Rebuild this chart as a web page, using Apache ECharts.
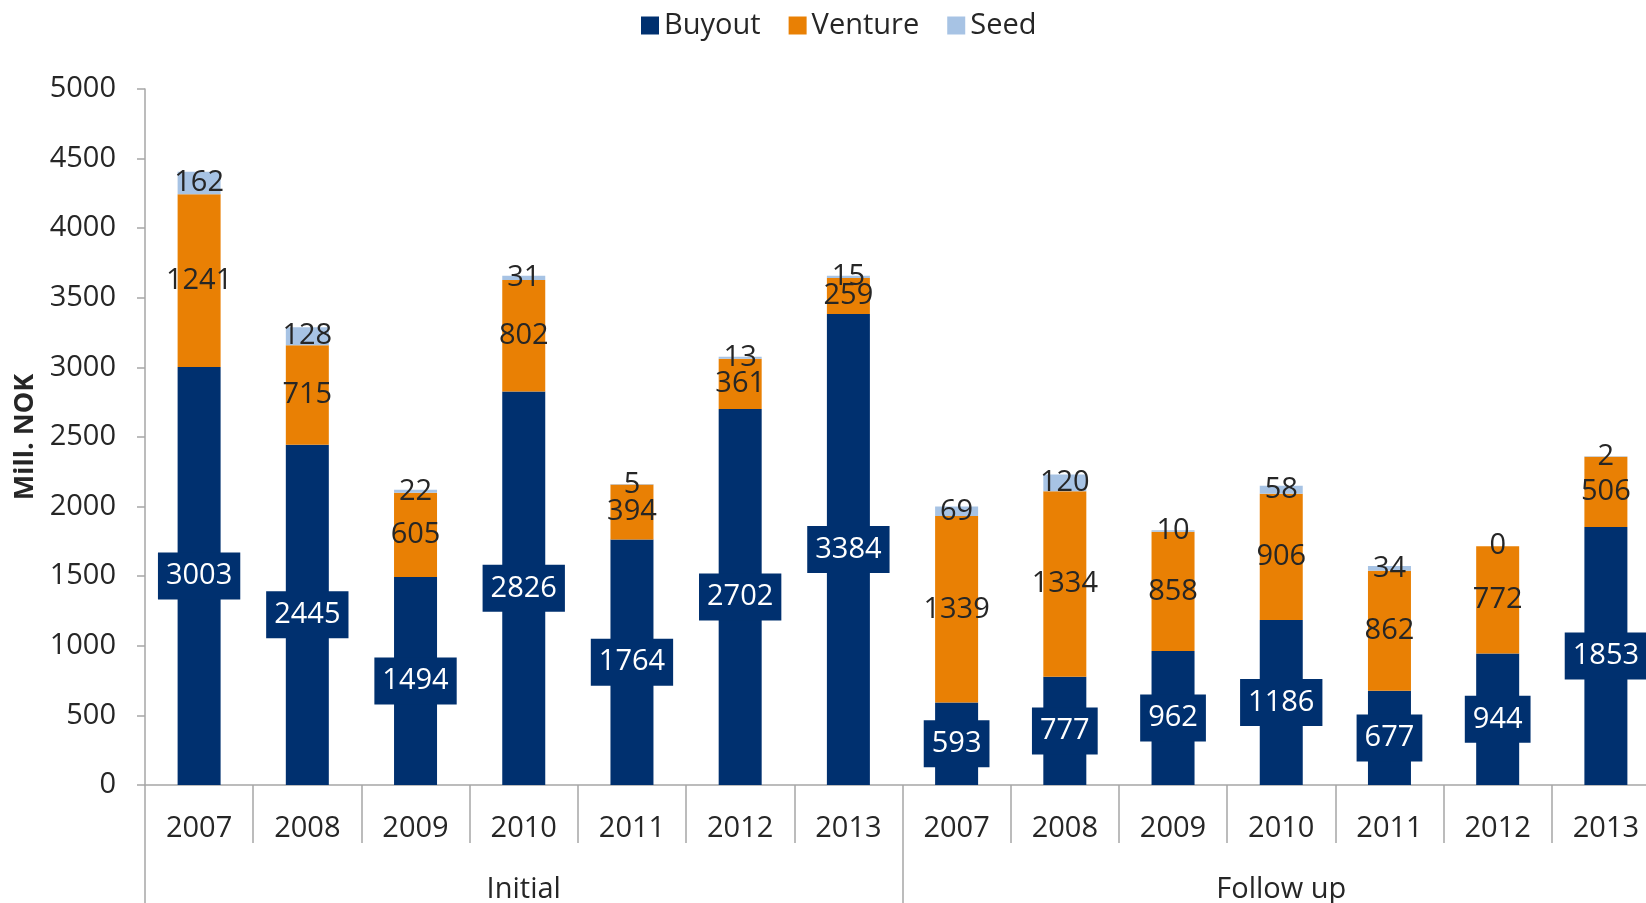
<!DOCTYPE html>
<html>
<head>
<meta charset="utf-8">
<script src="https://cdn.jsdelivr.net/npm/echarts@6/dist/echarts.min.js"></script>
<style>
  html, body { margin: 0; padding: 0; background: #fff; }
  #chart { width: 1646px; height: 903px; }
</style>
</head>
<body>
<div id="chart"></div>
<script>
// categories: 7 years under "Initial", 7 under "Follow up"
const years = ["2007", "2008", "2009", "2010", "2011", "2012", "2013",
               "2007", "2008", "2009", "2010", "2011", "2012", "2013"];
const groups = ["Initial", "Follow up"];
const yTicks = [0, 500, 1000, 1500, 2000, 2500, 3000, 3500, 4000, 4500, 5000];

// Mill. NOK
const buyout  = [3003, 2445, 1494, 2826, 1764, 2702, 3384, 593, 777, 962, 1186, 677, 944, 1853];
const venture = [1241, 715, 605, 802, 394, 361, 259, 1339, 1334, 858, 906, 862, 772, 506];
const seed    = [162, 128, 22, 31, 5, 13, 15, 69, 120, 10, 58, 34, 0, 2];

const FONT = "'Open Sans', 'Liberation Sans', sans-serif";
const FS = 29;
const TXT = "#262626";
const GREY = "#a6a6a6";

const chart = echarts.init(document.getElementById("chart"));

const darkLabel = {
  show: true,
  position: "inside",
  color: TXT,
  fontFamily: FONT,
  fontSize: FS
};

const option = {
  animation: false,
  color: ["#00306f", "#e98004", "#a7c3e4"],
  legend: {
    top: 6,
    left: 636,
    itemWidth: 18,
    itemHeight: 18,
    itemGap: 28,
    icon: "rect",
    textStyle: { color: TXT, fontFamily: FONT, fontSize: FS },
    data: ["Buyout", "Venture", "Seed"]
  },
  grid: { left: 145, top: 89, bottom: 118, width: 1515, outerBoundsMode: "none", containLabel: false },
  xAxis: [
    {
      type: "category",
      data: years,
      position: "bottom",
      axisLine: { show: true, lineStyle: { color: GREY, width: 1.5 } },
      axisTick: { show: true, interval: 0, length: 58, lineStyle: { color: GREY, width: 1.5 } },
      axisLabel: { interval: 0, margin: 29, color: TXT, fontFamily: FONT, fontSize: FS }
    },
    {
      type: "category",
      data: groups,
      position: "bottom",
      axisLine: { show: false },
      axisTick: { show: true, interval: 0, length: 130, lineStyle: { color: GREY, width: 1.5 } },
      axisLabel: { interval: 0, margin: 90, color: TXT, fontFamily: FONT, fontSize: FS }
    }
  ],
  yAxis: {
    type: "value",
    min: yTicks[0],
    max: yTicks[yTicks.length - 1],
    interval: 500,
    name: "Mill. NOK",
    nameLocation: "middle",
    nameGap: 97,
    nameTextStyle: { color: TXT, fontFamily: FONT, fontSize: 27, fontWeight: "bold" },
    axisLine: { show: true, lineStyle: { color: GREY, width: 1.5 } },
    axisTick: { show: true, length: 8, lineStyle: { color: GREY, width: 1.5 } },
    splitLine: { show: false },
    axisLabel: {
      margin: 29, color: TXT, fontFamily: FONT, fontSize: FS,
      formatter: v => String(v)
    }
  },
  series: [
    {
      name: "Buyout",
      type: "bar",
      stack: "total",
      barWidth: 43,
      data: buyout,
      label: {
        show: true,
        position: "inside",
        color: "#fff",
        fontFamily: FONT,
        fontSize: FS,
        backgroundColor: "#00306f",
        padding: [9, 8, 9, 8]
      }
    },
    {
      name: "Venture",
      type: "bar",
      stack: "total",
      barWidth: 43,
      data: venture,
      label: darkLabel
    },
    {
      name: "Seed",
      type: "bar",
      stack: "total",
      barWidth: 43,
      data: seed,
      label: darkLabel
    }
  ]
};

chart.setOption(option);
</script>
</body>
</html>
